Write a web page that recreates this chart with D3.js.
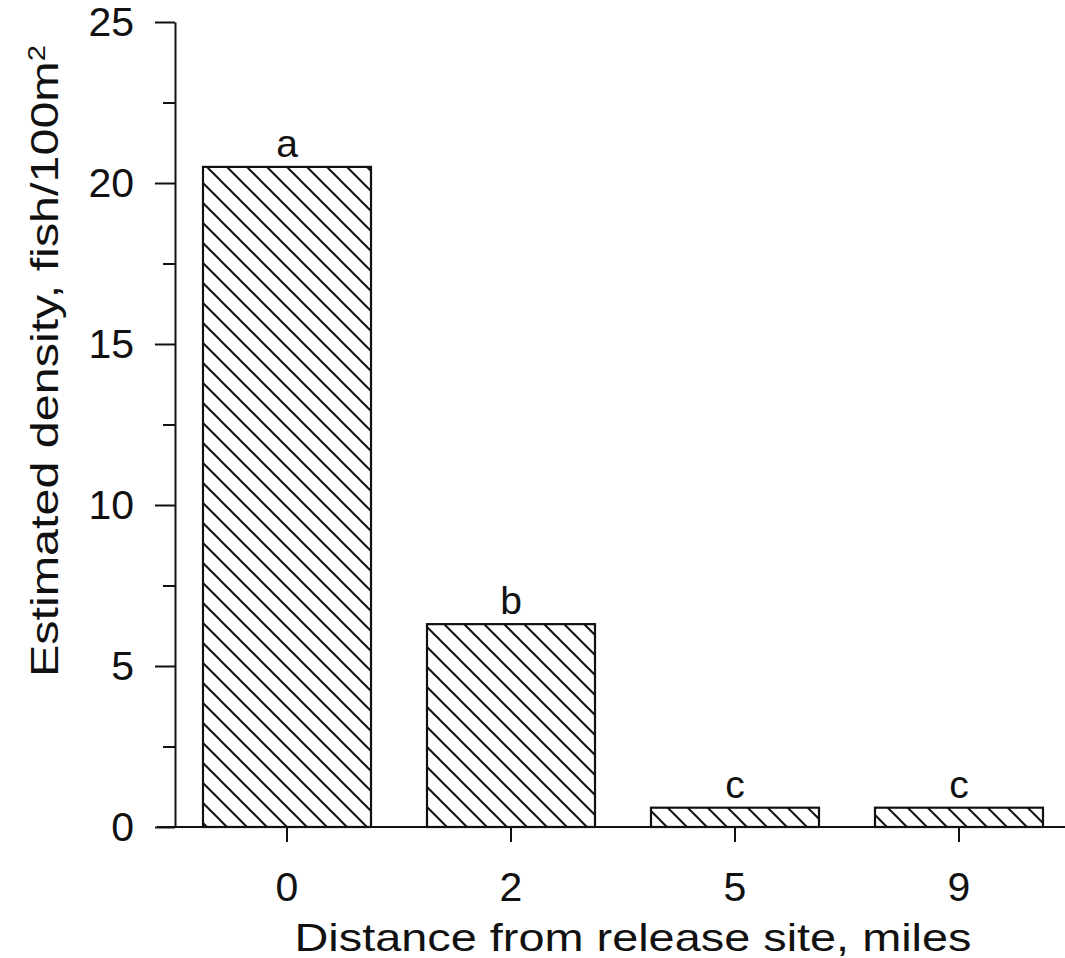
<!DOCTYPE html>
<html lang="en">
<head>
<meta charset="UTF-8">
<title>Estimated density by distance</title>
<script src="https://d3js.org/d3.v7.min.js"></script>
<style>
  body { margin: 0; background: #fff; }
  text { font-family: "Liberation Sans", Arial, Helvetica, sans-serif; fill: #111; }
</style>
</head>
<body>
<script>
    // data
    var distances = ['0', '2', '5', '9'];
    var density = [20.5, 6.3, 0.6, 0.6];
    var groups = ['a', 'b', 'c', 'c'];
    var majorTicks = [0, 5, 10, 15, 20, 25];
    var minorTicks = [2.5, 7.5, 12.5, 17.5, 22.5];

    var W = 1065, H = 958;
    var svg = d3.select('body').append('svg')
        .attr('width', W)
        .attr('height', H);

    // hatch pattern "\\\"
    svg.append('defs').append('pattern')
        .attr('id', 'hatch')
        .attr('patternUnits', 'userSpaceOnUse')
        .attr('width', 20)
        .attr('height', 20)
        .append('path')
            .attr('d', 'M0,0L20,20M-10,10L10,30M10,-10L30,10')
            .attr('stroke', '#111')
            .attr('stroke-width', 2);

    var x = d3.scaleBand()
        .domain(distances)
        .range([175, 1071])
        .paddingInner(0.25)
        .paddingOuter(0.125);

    var y = d3.scaleLinear()
        .domain([0, 25])
        .range([827, 22]);

    // bars
    svg.selectAll('rect.bar')
        .data(density)
        .enter()
            .append('rect')
            .attr('class', 'bar')
            .attr('x', function(d, i) { return x(distances[i]); })
            .attr('y', function(d) { return y(d); })
            .attr('width', x.bandwidth())
            .attr('height', function(d) { return y(0) - y(d); })
            .attr('fill', 'url(#hatch)')
            .attr('stroke', '#111')
            .attr('stroke-width', 2.2);

    // group letters
    svg.selectAll('text.grp')
        .data(groups)
        .enter()
            .append('text')
            .attr('class', 'grp')
            .attr('x', function(d, i) { return x(distances[i]) + x.bandwidth() / 2; })
            .attr('y', function(d, i) { return y(density[i]) - 10; })
            .attr('text-anchor', 'middle')
            .style('font-size', '39px')
            .text(function(d) { return d; });

    // y axis
    var yAxis = svg.append('g')
        .attr('transform', 'translate(175,0)')
        .call(d3.axisLeft(y).tickValues(majorTicks).tickSize(20).tickSizeOuter(0).tickPadding(21));
    yAxis.selectAll('text').style('font-size', '41px').attr('fill', '#111');

    svg.append('g')
        .attr('transform', 'translate(175,0)')
        .call(d3.axisLeft(y).tickValues(minorTicks).tickSize(12).tickSizeOuter(0).tickFormat(''))
        .select('.domain').remove();

    // x axis
    var xAxis = svg.append('g')
        .attr('transform', 'translate(0,' + y(0) + ')')
        .call(d3.axisBottom(x).tickSize(15).tickSizeOuter(0).tickPadding(30));
    xAxis.select('.domain').remove();
    xAxis.selectAll('text').style('font-size', '41px').attr('fill', '#111');

    svg.append('line')
        .attr('x1', 157).attr('x2', W)
        .attr('y1', y(0)).attr('y2', y(0))
        .attr('stroke', '#111')
        .attr('stroke-width', 2);

    svg.selectAll('.tick line, .domain')
        .attr('stroke', '#111')
        .attr('stroke-width', 2);

    // axis titles
    svg.append('text')
        .attr('x', 633)
        .attr('y', 951)
        .attr('text-anchor', 'middle')
        .attr('textLength', 677)
        .attr('lengthAdjust', 'spacingAndGlyphs')
        .style('font-size', '39px')
        .text('Distance from release site, miles');

    var yt = svg.append('text')
        .attr('transform', 'translate(58,361) rotate(-90)')
        .attr('text-anchor', 'middle')
        .attr('textLength', 632)
        .attr('lengthAdjust', 'spacingAndGlyphs')
        .style('font-size', '38px');
    yt.append('tspan').text('Estimated density, fish/100m');
    yt.append('tspan')
        .attr('dy', '-0.55em')
        .style('font-size', '23px')
        .text('2');
</script>
</body>
</html>
